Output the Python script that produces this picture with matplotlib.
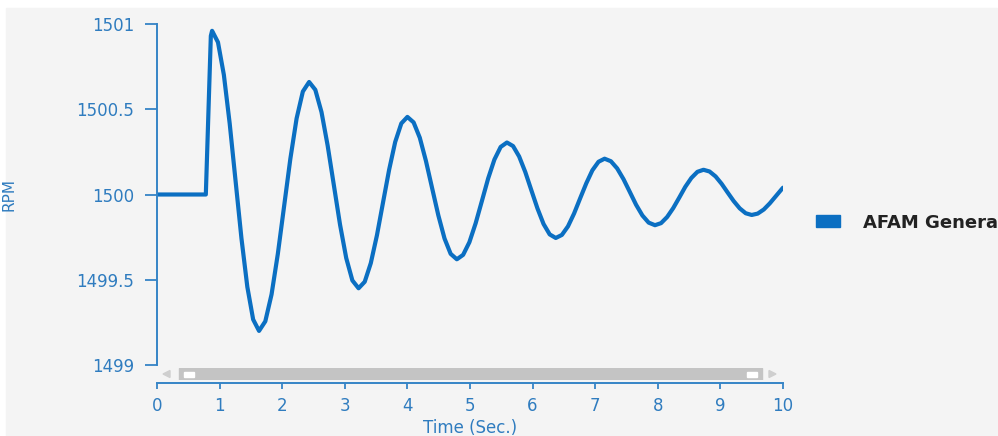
import matplotlib.pyplot as plt
from matplotlib.patches import Rectangle, Patch, Polygon

# generator speed after the disturbance
time_s = [0.0, 0.78, 0.86, 0.88,
          0.974, 1.068, 1.161, 1.255, 1.349, 1.443, 1.536, 1.63,
          1.73, 1.83, 1.93, 2.03, 2.13, 2.23, 2.33, 2.43,
          2.529, 2.628, 2.726, 2.825, 2.924, 3.023, 3.121, 3.22,
          3.318, 3.415, 3.513, 3.61, 3.708, 3.805, 3.903, 4.00,
          4.099, 4.198, 4.296, 4.395, 4.494, 4.593, 4.691, 4.79,
          4.89, 4.99, 5.09, 5.19, 5.29, 5.39, 5.49, 5.59,
          5.688, 5.785, 5.883, 5.98, 6.078, 6.175, 6.273, 6.37,
          6.468, 6.565, 6.663, 6.76, 6.858, 6.955, 7.053, 7.15,
          7.251, 7.351, 7.452, 7.553, 7.653, 7.754, 7.854, 7.955,
          8.052, 8.149, 8.246, 8.343, 8.439, 8.536, 8.633, 8.73,
          8.826, 8.923, 9.019, 9.115, 9.211, 9.308, 9.404, 9.50,
          9.596, 9.693, 9.789, 9.885, 9.981, 10.0]
rpm = [1500.0, 1500.0, 1500.93, 1500.96,
       1500.893, 1500.702, 1500.417, 1500.08, 1499.743, 1499.458, 1499.267, 1499.20,
       1499.256, 1499.414, 1499.651, 1499.93, 1500.209, 1500.446, 1500.604, 1500.66,
       1500.614, 1500.483, 1500.287, 1500.055, 1499.823, 1499.627, 1499.496, 1499.45,
       1499.488, 1499.597, 1499.760, 1499.952, 1500.145, 1500.308, 1500.417, 1500.455,
       1500.423, 1500.333, 1500.197, 1500.037, 1499.878, 1499.742, 1499.652, 1499.62,
       1499.646, 1499.720, 1499.831, 1499.962, 1500.094, 1500.205, 1500.279, 1500.305,
       1500.284, 1500.223, 1500.132, 1500.025, 1499.918, 1499.827, 1499.766, 1499.745,
       1499.763, 1499.813, 1499.889, 1499.978, 1500.066, 1500.142, 1500.192, 1500.21,
       1500.195, 1500.153, 1500.090, 1500.015, 1499.940, 1499.877, 1499.835, 1499.82,
       1499.832, 1499.868, 1499.920, 1499.982, 1500.045, 1500.097, 1500.133, 1500.145,
       1500.135, 1500.106, 1500.063, 1500.012, 1499.962, 1499.919, 1499.890, 1499.88,
       1499.888, 1499.912, 1499.948, 1499.99, 1500.032, 1500.04]

y_ticks = [1499, 1499.5, 1500, 1500.5, 1501]
y_labels = ["1499", "1499.5", "1500", "1500.5", "1501"]
x_ticks = list(range(0, 11))
series_name = "AFAM Generator"

line_blue = "#0b6fc2"
axis_blue = "#3584c6"
text_blue = "#2f7cbf"
bg = "#f4f4f4"

W, H = 998, 436
fig = plt.figure(figsize=(W / 100, H / 100), dpi=100, facecolor="white")
fig.patches.append(Rectangle((6 / W, 0), (997 - 6) / W, 1 - 8 / H,
                             transform=fig.transFigure, color=bg, zorder=-10))

ax = fig.add_axes([157 / W, (H - 365) / H, 626 / W, 341 / H])
ax.set_facecolor("none")
ax.plot(time_s, rpm, color=line_blue, lw=3.0, solid_capstyle="round",
        solid_joinstyle="round", label=series_name)

ax.set_xlim(0, 10)
ax.set_ylim(1499, 1501)
ax.set_yticks(y_ticks)
ax.set_yticklabels(y_labels)
ax.set_xticks(x_ticks)

for s in ["top", "right"]:
    ax.spines[s].set_visible(False)
for s in ["left", "bottom"]:
    ax.spines[s].set_color(axis_blue)
    ax.spines[s].set_linewidth(1.4)
ax.spines["bottom"].set_position(("outward", 13))

ax.tick_params(axis="y", direction="out", length=8.5, width=1.3, color=axis_blue,
               labelcolor=text_blue, labelsize=12, pad=8)
ax.tick_params(axis="x", direction="out", length=4, width=1.3, color=axis_blue,
               labelcolor=text_blue, labelsize=12, pad=6)

ax.set_ylabel("RPM", color=text_blue, fontsize=11)
ax.yaxis.set_label_coords(-0.225, 0.5)
ax.set_xlabel("Time (Sec.)", color=text_blue, fontsize=12)
ax.xaxis.set_label_coords(0.5, -0.158)

# scrollbar under the plot
sb = fig.add_axes([157 / W, (H - 380) / H, 626 / W, 12 / H])
sb.set_axis_off()
sb.set_xlim(0, 626)
sb.set_ylim(0, 12)
sb.add_patch(Rectangle((22, 0), 583, 12, color="#c4c4c4"))
sb.add_patch(Rectangle((27, 3), 10, 5.5, color="white"))
sb.add_patch(Rectangle((590, 3), 10, 5.5, color="white"))
sb.add_patch(Polygon([[6, 6], [13, 9.5], [13, 2.5]], color="#cfcfcf"))
sb.add_patch(Polygon([[619, 6], [612, 9.5], [612, 2.5]], color="#cfcfcf"))

leg = ax.legend(handles=[Patch(color=line_blue, label=series_name)],
                loc="center left", bbox_to_anchor=(816 / W, 1 - 222.5 / H),
                bbox_transform=fig.transFigure, frameon=False, fontsize=13,
                handlelength=1.33, handleheight=0.6, handletextpad=1.25,
                borderpad=0, borderaxespad=0)
for t in leg.get_texts():
    t.set_fontweight("bold")
    t.set_color("#222222")

fig.savefig("out.png", dpi=100, facecolor=fig.get_facecolor())
